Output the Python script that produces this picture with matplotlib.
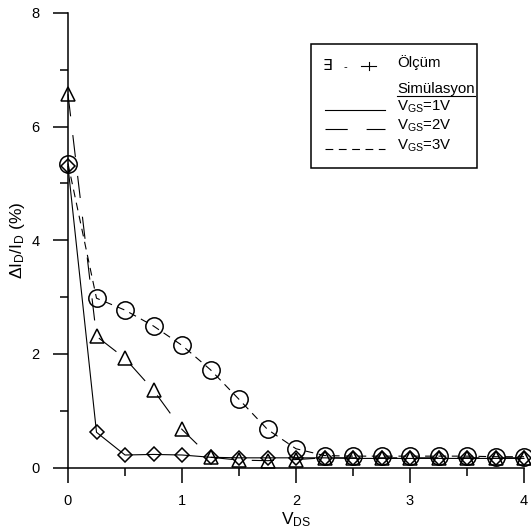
import matplotlib
matplotlib.use("Agg")
import matplotlib.pyplot as plt
from matplotlib.lines import Line2D
from matplotlib.patches import Rectangle

plt.rcParams['font.family'] = ['Liberation Sans', 'DejaVu Sans']
plt.rcParams['mathtext.fontset'] = 'custom'
plt.rcParams['mathtext.rm'] = 'Liberation Sans'
plt.rcParams['mathtext.it'] = 'Liberation Sans:italic'
plt.rcParams['mathtext.bf'] = 'Liberation Sans:bold'

# ---- data ----
vds = [0, 0.25, 0.5, 0.75, 1.0, 1.25, 1.5, 1.75, 2.0, 2.25, 2.5, 2.75, 3.0, 3.25, 3.5, 3.75, 4.0]
vgs1 = [5.30, 0.62, 0.22, 0.23, 0.22, 0.18, 0.17, 0.17, 0.17, 0.17, 0.16, 0.16, 0.16, 0.16, 0.16, 0.16, 0.16]
vgs2 = [6.57, 2.31, 1.92, 1.36, 0.67, 0.18, 0.13, 0.12, 0.14, 0.17, 0.17, 0.17, 0.17, 0.17, 0.17, 0.17, 0.17]
vgs3 = [5.35, 2.98, 2.77, 2.49, 2.15, 1.72, 1.20, 0.67, 0.33, 0.21, 0.20, 0.20, 0.20, 0.20, 0.20, 0.19, 0.19]

x_ticks = [0, 1, 2, 3, 4]
y_ticks = [0, 2, 4, 6, 8]
legend_labels = ['Ölçüm', 'Simülasyon', r'V$_{\mathrm{GS}}$=1V', r'V$_{\mathrm{GS}}$=2V', r'V$_{\mathrm{GS}}$=3V']

W, H = 531, 528
fig = plt.figure(figsize=(W / 100, H / 100), dpi=100)
ax = fig.add_axes([68 / W, 1 - 467.5 / H, (524 - 68) / W, (467.5 - 13) / H])

lw = 0.8
mew = 1.1
long_dash = (0, (20, 17))
short_dash = (0, (7, 5))

ax.plot(vds, vgs1, color='black', lw=lw, ls='-', marker='D', ms=7.5,
        mfc='none', mec='black', mew=mew, clip_on=False, zorder=3)
ax.plot(vds, vgs2, color='black', lw=lw, ls=long_dash, marker='^', ms=10,
        mfc='none', mec='black', mew=mew, clip_on=False, zorder=3)
ax.plot(vds, vgs3, color='black', lw=lw, ls=short_dash, marker='o', ms=12.5,
        mfc='none', mec='black', mew=mew, clip_on=False, zorder=3)

ax.set_xlim(0, 4)
ax.set_ylim(0, 8)
for s in ['top', 'right']:
    ax.spines[s].set_visible(False)
for s in ['left', 'bottom']:
    ax.spines[s].set_linewidth(1.1)

ax.set_xticks(x_ticks)
ax.set_yticks(y_ticks)
ax.set_xticks([0.5, 1.5, 2.5, 3.5], minor=True)
ax.set_yticks([1, 3, 5, 7], minor=True)
ax.tick_params(which='major', direction='out', length=11, width=1.1, labelsize=10.5)
ax.tick_params(axis='x', which='major', pad=8)
ax.tick_params(axis='y', which='major', pad=9.5)
ax.tick_params(which='minor', direction='out', length=6, width=1.1)

ax.set_xlabel(r'V$_{\mathrm{DS}}$', fontsize=12.5, labelpad=2)
ax.set_ylabel(r'$\Delta$I$_{\mathrm{D}}$/I$_{\mathrm{D}}$ (%)', fontsize=12.5, labelpad=3)

# ---- legend (manual) ----
def fx(px):
    return px / W

def fy(py):
    return 1 - py / H

fig.patches.append(Rectangle((fx(311), fy(168)), fx(477) - fx(311), fy(44) - fy(168),
                             transform=fig.transFigure, fill=False, lw=1.1, ec='black'))
fs = 10.8
fig.text(fx(323), fy(66), '∃', fontsize=11, va='center', ha='left')
fig.text(fx(344), fy(67), '-', fontsize=8, va='center', ha='left')
fig.lines.append(Line2D([fx(361), fx(376)], [fy(66), fy(66)], transform=fig.transFigure,
                        color='black', lw=0.8))
fig.lines.append(Line2D([fx(368.5), fx(368.5)], [fy(62), fy(70)], transform=fig.transFigure,
                        color='black', lw=0.8))
fig.text(fx(397), fy(63), legend_labels[0], fontsize=fs, va='center', ha='left')
fig.text(fx(397), fy(89), legend_labels[1], fontsize=fs, va='center', ha='left')
fig.lines.append(Line2D([fx(397), fx(475)], [fy(96), fy(96)], transform=fig.transFigure,
                        color='black', lw=0.8))
rows = [(110, '-'), (129, long_dash), (149, short_dash)]
for (py, ls), lab in zip(rows, legend_labels[2:]):
    fig.lines.append(Line2D([fx(325), fx(385)], [fy(py), fy(py)], transform=fig.transFigure,
                            color='black', lw=lw, ls=ls))
    fig.text(fx(397), fy(py - 3), lab, fontsize=fs, va='center', ha='left')

fig.savefig('out.png', dpi=100)
